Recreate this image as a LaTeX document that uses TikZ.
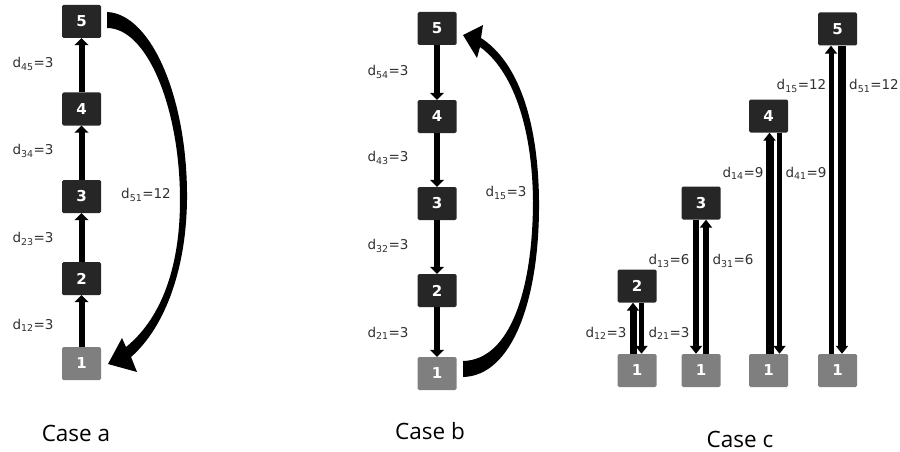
\documentclass[tikz,border=0pt]{standalone}
\usepackage{fontspec}
\setmainfont{DejaVu Sans}
\newfontfamily\capfont{Open Sans}
\usetikzlibrary{arrows.meta}
\definecolor{boxdark}{HTML}{262626}
\definecolor{boxgray}{HTML}{7F7F7F}
\definecolor{lblcol}{HTML}{303030}
\begin{document}
\begin{tikzpicture}[x=1pt,y=-1pt,
  box/.style={fill=boxdark, text=white, minimum width=39pt, minimum height=33pt, inner sep=0pt, rounded corners=1.5pt, font=\fontsize{15}{15}\selectfont\bfseries},
  basebox/.style={box, fill=boxgray},
  lbl/.style={text=lblcol, font=\fontsize{13.5}{13.5}\selectfont, inner sep=0pt},
  captxt/.style={font=\capfont\fontsize{22.5}{22.5}\selectfont, inner sep=0pt},
  chain/.style={line width=6pt, -{Triangle[length=7pt,width=14pt]}},
  pairar/.style={line width=6pt, -{Triangle[length=8pt,width=12pt]}}
]
\useasboundingbox (0,0) rectangle (900,452);

% Case a
\node[box] (a5) at (81.5,21.5) {5};
\node[box] (a4) at (81.5,109) {4};
\node[box] (a3) at (81.5,196.5) {3};
\node[box] (a2) at (81.5,278.5) {2};
\node[basebox] (a1) at (81.5,363.5) {1};
\draw[chain] (a1) -- (a2);
\draw[chain] (a2) -- (a3);
\draw[chain] (a3) -- (a4);
\draw[chain] (a4) -- (a5);
\node[lbl] (la45) at (33,64) {d\textsubscript{45}=3};
\node[lbl] (la34) at (33,151) {d\textsubscript{34}=3};
\node[lbl] (la23) at (33,239) {d\textsubscript{23}=3};
\node[lbl] (la12) at (33,325) {d\textsubscript{12}=3};
\node[lbl] (la51) at (146,195) {d\textsubscript{51}=12};
\fill (107,12) .. controls (152,14) and (188,100) .. (187,200)
  .. controls (186,275) and (162,330) .. (131,357) -- (137,372) -- (108,364) -- (122,338) -- (126,347)
  .. controls (157,322) and (180,275) .. (180,200)
  .. controls (180,110) and (148,28) .. (107,28) -- cycle;
\node[captxt] (capa) at (76,433) {Case a};

% Case b
\node[box] (b5) at (437,28.5) {5};
\node[box] (b4) at (437,116.5) {4};
\node[box] (b3) at (437,203.5) {3};
\node[box] (b2) at (437,290.5) {2};
\node[basebox] (b1) at (437,373.5) {1};
\draw[chain] (b5) -- (b4);
\draw[chain] (b4) -- (b3);
\draw[chain] (b3) -- (b2);
\draw[chain] (b2) -- (b1);
\node[lbl] (lb54) at (388,72) {d\textsubscript{54}=3};
\node[lbl] (lb43) at (388,158) {d\textsubscript{43}=3};
\node[lbl] (lb32) at (388,246) {d\textsubscript{32}=3};
\node[lbl] (lb21) at (388,333) {d\textsubscript{21}=3};
\node[lbl] (lb15) at (506,193) {d\textsubscript{15}=3};
\fill (463,377) .. controls (512,376) and (540,300) .. (539,200)
  .. controls (538,120) and (518,62) .. (481,38) -- (483,25) -- (463,35) -- (477,58) -- (480,47)
  .. controls (512,70) and (532,125) .. (533,200)
  .. controls (533,290) and (510,360) .. (463,361) -- cycle;
\node[captxt] (capb) at (430,431) {Case b};

% Case c
\node[basebox] (c1a) at (637,370.5) {1};
\node[basebox] (c1b) at (701,370.5) {1};
\node[basebox] (c1c) at (768.5,370.5) {1};
\node[basebox] (c1d) at (837.5,370.5) {1};
\node[box] (c2) at (637,286) {2};
\node[box] (c3) at (701,203) {3};
\node[box] (c4) at (768.5,116) {4};
\node[box] (c5) at (837.5,29) {5};
\draw[pairar, line width=7pt] ([xshift=-4pt]c1a.north) -- ([xshift=-4pt]c2.south);
\draw[pairar, line width=5pt] ([xshift=4.5pt]c2.south) -- ([xshift=4.5pt]c1a.north);
\draw[pairar] ([xshift=-5pt]c3.south) -- ([xshift=-5pt]c1b.north);
\draw[pairar] ([xshift=5pt]c1b.north) -- ([xshift=5pt]c3.south);
\draw[pairar, line width=8pt] ([xshift=1pt]c1c.north) -- ([xshift=1pt]c4.south);
\draw[pairar, line width=5pt] ([xshift=11pt]c4.south) -- ([xshift=11pt]c1c.north);
\draw[pairar, line width=5pt] ([xshift=-6.5pt]c1d.north) -- ([xshift=-6.5pt]c5.south);
\draw[pairar, line width=8pt] ([xshift=4.5pt]c5.south) -- ([xshift=4.5pt]c1d.north);
\node[lbl] (lc12) at (606,333) {d\textsubscript{12}=3};
\node[lbl] (lc21) at (669,333) {d\textsubscript{21}=3};
\node[lbl] (lc13) at (669,261) {d\textsubscript{13}=6};
\node[lbl] (lc31) at (733,261) {d\textsubscript{31}=6};
\node[lbl] (lc14) at (743,173) {d\textsubscript{14}=9};
\node[lbl] (lc41) at (806,173) {d\textsubscript{41}=9};
\node[lbl] (lc15) at (801.5,86) {d\textsubscript{15}=12};
\node[lbl] (lc51) at (874,86) {d\textsubscript{51}=12};
\node[captxt] (capc) at (740,439) {Case c};
\end{tikzpicture}
\end{document}
